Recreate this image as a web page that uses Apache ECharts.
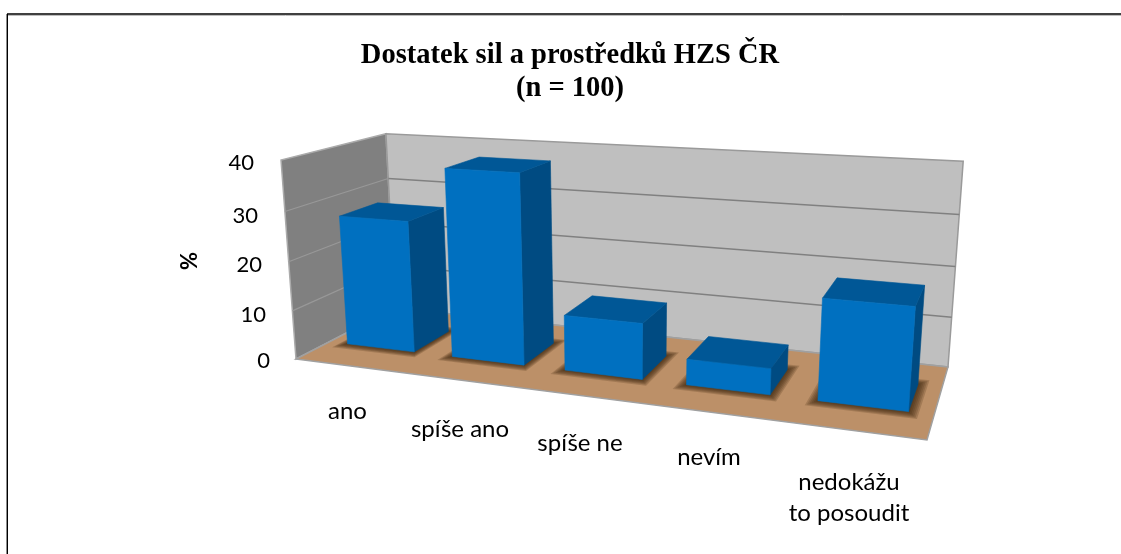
<!DOCTYPE html>
<html><head><meta charset="utf-8">
<style>html,body{margin:0;padding:0;background:#fff}#c{width:1121px;height:554px}</style>
<script src="https://cdn.jsdelivr.net/npm/echarts@6/dist/echarts.min.js"></script>
</head><body><div id="c"></div>
<script>
// ---- data ----
var titleLines = ['Dostatek sil a prostředků HZS ČR', '(n = 100)'];
var categories = ['ano', 'spíše ano', 'spíše ne', 'nevím', 'nedokážu\nto posoudit'];
var percent = [27, 38, 11, 5, 19];
var yTicks = [0, 10, 20, 30, 40];
var yName = '%';

// ---- 3D box as it appears on the page: floor corners plus the vertical direction of the projection ----
var FLOOR = [[296, 359], [927, 440], [948, 367], [395, 308]];
var VERTICAL = { x: -27.2, y: -205.9, w: -0.0435 };
var BAR_DEPTH = [0.31, 0.69];
var BAR_FRACTION = 1 / 1.55;
var SHADOW_LAYERS = 6;
var Y_LABEL_PAD = { 0: 0, 10: 4, 20: 8, 30: 12, 40: 16 };
var Y_LABEL_DROP = { 0: 2, 10: 8, 20: 8, 30: 8, 40: 2 };
var X_LABEL_SHIFT = [-0.5, -6, -4, 7, 29];
var X_LABEL_DROP = [[39], [57], [71], [85], [110, 7]];
var FONT = 'Lato';

function homography(q) {
  var dx1 = q[1][0] - q[2][0], dy1 = q[1][1] - q[2][1];
  var dx2 = q[3][0] - q[2][0], dy2 = q[3][1] - q[2][1];
  var sx = q[0][0] - q[1][0] + q[2][0] - q[3][0], sy = q[0][1] - q[1][1] + q[2][1] - q[3][1];
  var den = dx1 * dy2 - dy1 * dx2;
  var g = (sx * dy2 - sy * dx2) / den, h = (dx1 * sy - dy1 * sx) / den;
  return {
    a: q[1][0] - q[0][0] + g * q[1][0], b: q[3][0] - q[0][0] + h * q[3][0], c: q[0][0],
    d: q[1][1] - q[0][1] + g * q[1][1], e: q[3][1] - q[0][1] + h * q[3][1], f: q[0][1],
    g: g, h: h
  };
}
var H = homography(FLOOR);
function project(u, depth, t) {
  var w = H.g * u + H.h * depth + 1 + VERTICAL.w * t;
  return [(H.a * u + H.b * depth + H.c + VERTICAL.x * t) / w,
          (H.d * u + H.e * depth + H.f + VERTICAL.y * t) / w];
}
function poly(points, style, z) {
  return { type: 'polygon', z2: z || 0, shape: { points: points }, style: style };
}
function solid(points, color, z) {
  return poly(points, { fill: color, stroke: color, lineWidth: 0.6 }, z);
}
function line(a, b, color, width, z) {
  return { type: 'line', z2: z || 1, shape: { x1: a[0], y1: a[1], x2: b[0], y2: b[1] },
           style: { stroke: color, lineWidth: width, fill: null } };
}
function tOf(api, grid, v) {
  return (grid.y + grid.height - api.coord([0, v])[1]) / grid.height;
}

function renderBox(params, api) {
  var grid = params.coordSys, kids = [];
  kids.push(poly([project(0, 0, 0), project(0, 1, 0), project(0, 1, 1), project(0, 0, 1)],
    { fill: '#808080', stroke: '#ababab', lineWidth: 1.5 }));
  kids.push(poly([project(0, 1, 0), project(1, 1, 0), project(1, 1, 1), project(0, 1, 1)],
    { fill: '#bfbfbf', stroke: '#9a9a9a', lineWidth: 1.5 }));
  yTicks.forEach(function (v) {
    if (v === yTicks[0] || v === yTicks[yTicks.length - 1]) return;
    var t = tOf(api, grid, v);
    kids.push(line(project(0, 1, t), project(1, 1, t), '#808080', 1.5));
    kids.push(line(project(0, 0, t), project(0, 1, t), '#989898', 1.2));
  });
  kids.push(poly([project(0, 0, 0), project(1, 0, 0), project(1, 1, 0), project(0, 1, 0)],
    { fill: '#bc9068', stroke: '#a0a0a0', lineWidth: 1.5 }, 2));
  return { type: 'group', children: kids };
}

function renderBar(params, api) {
  var grid = params.coordSys;
  var c0 = api.coord([api.value(0), 0]), c1 = api.coord([api.value(0), api.value(1)]);
  var bw = api.size([1, 0])[0] * BAR_FRACTION;
  var u0 = (c0[0] - bw / 2 - grid.x) / grid.width, u1 = (c0[0] + bw / 2 - grid.x) / grid.width;
  var t = (grid.y + grid.height - c1[1]) / grid.height;
  var d0 = BAR_DEPTH[0], d1 = BAR_DEPTH[1];
  var P = project, kids = [];
  // soft contact shadow: nested translucent footprints on the floor
  for (var k = SHADOW_LAYERS; k >= 1; k--) {
    var du = 0.0024 * k, dd = 0.013 * k;
    kids.push(poly([P(u0 - du, d0 - dd, 0), P(u1 + du, d0 - dd, 0), P(u1 + du, d1 + dd, 0), P(u0 - du, d1 + dd, 0)],
      { fill: 'rgba(60,34,12,0.2)' }, 0));
  }
  kids.push(solid([P(u1, d0, 0), P(u1, d1, 0), P(u1, d1, t), P(u1, d0, t)], '#004b82', 1));
  kids.push(solid([P(u0, d0, t), P(u1, d0, t), P(u1, d1, t), P(u0, d1, t)], '#005796', 1));
  kids.push(solid([P(u0, d0, 0), P(u1, d0, 0), P(u1, d0, t), P(u0, d0, t)], '#0070c0', 2));
  return { type: 'group', children: kids };
}

// axis-label rich styles (per tick offsets follow the perspective of the box)
var yRich = {};
yTicks.forEach(function (v) {
  yRich['y' + v] = { fontFamily: FONT, fontSize: 22, color: '#000', padding: [Y_LABEL_DROP[v], Y_LABEL_PAD[v], 0, 0] };
});
var xRich = {};
categories.forEach(function (c, i) {
  c.split('\n').forEach(function (l, j) {
    var s = X_LABEL_SHIFT[i];
    xRich['x' + i + '_' + j] = { fontFamily: FONT, fontSize: 24, color: '#000',
      padding: [X_LABEL_DROP[i][j], s < 0 ? -2 * s : 0, 0, s > 0 ? 2 * s : 0] };
  });
});

var chart = echarts.init(document.getElementById('c'), null, { renderer: 'canvas' });
chart.setOption({
  animation: false,
  backgroundColor: '#fff',
  title: {
    text: titleLines.join('\n'), left: 565, top: 34, textAlign: 'center',
    textStyle: { fontFamily: 'Liberation Serif', fontWeight: 'bold', fontSize: 28.5, lineHeight: 33, color: '#000' }
  },
  grid: { left: 289, top: 162, width: 590, height: 198 },
  xAxis: {
    type: 'category', data: categories,
    axisLine: { show: false }, axisTick: { show: false }, splitLine: { show: false },
    axisLabel: {
      interval: 0, margin: 0, verticalAlign: 'top', hideOverlap: false,
      formatter: function (val, idx) {
        return val.split('\n').map(function (l, j) { return '{x' + idx + '_' + j + '|' + l + '}'; }).join('\n');
      },
      rich: xRich
    }
  },
  yAxis: {
    type: 'value', min: 0, max: 40, interval: 10,
    name: yName, nameLocation: 'middle', nameGap: 88, nameRotate: 90,
    nameTextStyle: { fontFamily: FONT, fontWeight: 'bold', fontSize: 22, color: '#000' },
    axisLine: { show: false }, axisTick: { show: false }, splitLine: { show: false },
    axisLabel: { margin: 19, formatter: function (v) { return '{y' + v + '|' + v + '}'; }, rich: yRich }
  },
  graphic: [
    { type: 'line', silent: true, shape: { x1: 7, y1: 15.5, x2: 1121, y2: 15.5 }, style: { stroke: '#bdbdbd', lineWidth: 1 } },
    { type: 'line', silent: true, shape: { x1: 6.5, y1: 14, x2: 6.5, y2: 554 }, style: { stroke: '#8c8c8c', lineWidth: 1 } },
    { type: 'line', silent: true, shape: { x1: 7, y1: 14, x2: 1121, y2: 14 }, style: { stroke: '#000', lineWidth: 1.3 } },
    { type: 'line', silent: true, shape: { x1: 7.5, y1: 14, x2: 7.5, y2: 554 }, style: { stroke: '#000', lineWidth: 1 } }
  ],
  series: [
    { type: 'custom', name: 'box', silent: true, clip: false, z: 1, renderItem: renderBox, data: [[0, 0]], encode: { x: 0, y: 1 } },
    { type: 'custom', name: 'Dostatek', clip: false, z: 2, renderItem: renderBar,
      data: percent.map(function (v, i) { return [i, v]; }), encode: { x: 0, y: 1 } }
  ]
});
</script></body></html>
